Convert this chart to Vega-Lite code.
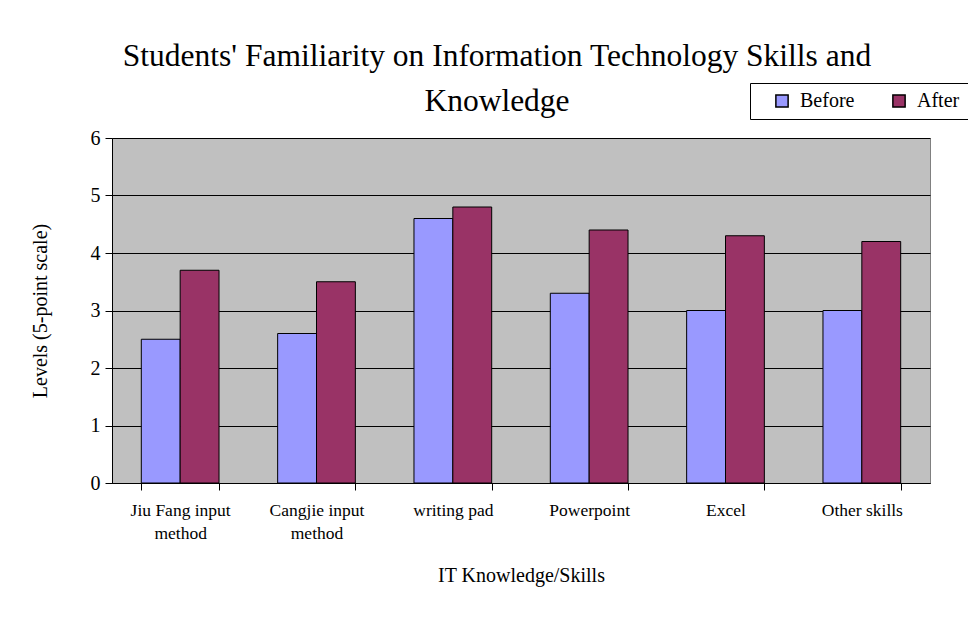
{
  "$schema": "https://vega.github.io/schema/vega-lite/v6.json",
  "autosize": {"type": "none"},
  "width": 818,
  "height": 345,
  "padding": {"left": 112, "top": 138, "right": 38, "bottom": 134},
  "background": "white",
  "title": {
    "text": ["Students' Familiarity on Information Technology Skills and", "Knowledge"],
    "font": "Liberation Serif",
    "fontSize": 31.5,
    "fontWeight": "normal",
    "color": "black",
    "lineHeight": 45,
    "anchor": "middle",
    "dx": -24,
    "offset": -35
  },
  "data": {
    "values": [
      {"skill": "Jiu Fang input method", "period": "Before", "level": 2.5},
      {"skill": "Jiu Fang input method", "period": "After", "level": 3.7},
      {"skill": "Cangjie input method", "period": "Before", "level": 2.6},
      {"skill": "Cangjie input method", "period": "After", "level": 3.5},
      {"skill": "writing pad", "period": "Before", "level": 4.6},
      {"skill": "writing pad", "period": "After", "level": 4.8},
      {"skill": "Powerpoint", "period": "Before", "level": 3.3},
      {"skill": "Powerpoint", "period": "After", "level": 4.4},
      {"skill": "Excel", "period": "Before", "level": 3.0},
      {"skill": "Excel", "period": "After", "level": 4.3},
      {"skill": "Other skills", "period": "Before", "level": 3.0},
      {"skill": "Other skills", "period": "After", "level": 4.2}
    ]
  },
  "mark": {"type": "bar", "stroke": "black", "strokeWidth": 1},
  "encoding": {
    "x": {
      "field": "skill",
      "type": "nominal",
      "sort": null,
      "scale": {"paddingInner": 0.43, "paddingOuter": 0.215},
      "axis": {
        "title": "IT Knowledge/Skills",
        "titleFont": "Liberation Serif",
        "titleFontSize": 20,
        "titleFontWeight": "normal",
        "titleColor": "black",
        "titlePadding": 24,
        "labelFont": "Liberation Serif",
        "labelFontSize": 17.5,
        "labelColor": "black",
        "labelAngle": 0,
        "labelPadding": 11,
        "labelLineHeight": 23,
        "labelExpr": "datum.value == 'Jiu Fang input method' ? ['Jiu Fang input', 'method'] : datum.value == 'Cangjie input method' ? ['Cangjie input', 'method'] : datum.value",
        "tickBand": "extent",
        "tickColor": "black",
        "tickSize": 7,
        "domainColor": "black",
        "grid": false
      }
    },
    "xOffset": {"field": "period", "type": "nominal", "sort": ["Before", "After"]},
    "y": {
      "field": "level",
      "type": "quantitative",
      "scale": {"domain": [0, 6]},
      "axis": {
        "title": "Levels (5-point scale)",
        "titleFont": "Liberation Serif",
        "titleFontSize": 20,
        "titleFontWeight": "normal",
        "titleColor": "black",
        "titlePadding": 40,
        "values": [0, 1, 2, 3, 4, 5, 6],
        "labelFont": "Liberation Serif",
        "labelFontSize": 20,
        "labelColor": "black",
        "labelPadding": 5,
        "tickColor": "black",
        "tickSize": 7,
        "domainColor": "black",
        "grid": true,
        "gridColor": "black",
        "gridOpacity": 1
      }
    },
    "color": {
      "field": "period",
      "type": "nominal",
      "sort": ["Before", "After"],
      "scale": {"domain": ["Before", "After"], "range": ["#9999FF", "#993366"]},
      "legend": {
        "title": null,
        "orient": "none",
        "legendX": 638,
        "legendY": -55,
        "direction": "horizontal",
        "strokeColor": "black",
        "fillColor": "white",
        "padding": 8,
        "symbolType": "square",
        "symbolSize": 150,
        "symbolOffset": 14,
        "symbolStrokeColor": "black",
        "symbolStrokeWidth": 1.5,
        "symbolOpacity": 1,
        "labelFont": "Liberation Serif",
        "labelFontSize": 20,
        "labelColor": "black",
        "columnPadding": 20,
        "labelOffset": 8,
        "offset": 0
      }
    }
  },
  "config": {
    "view": {"fill": "#C0C0C0", "stroke": "#808080", "strokeWidth": 1}
  }
}
